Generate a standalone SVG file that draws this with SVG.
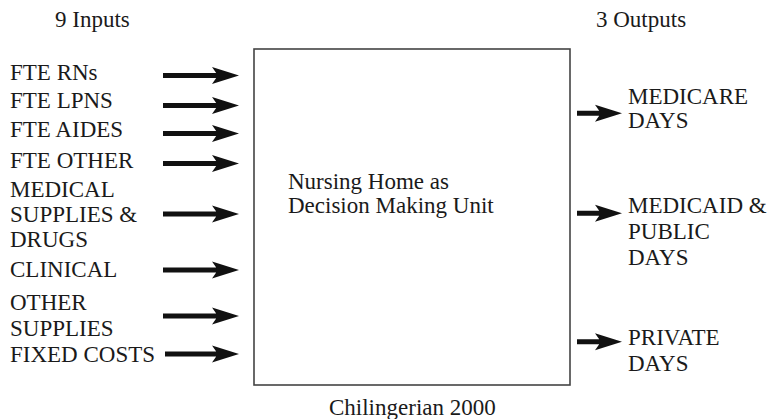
<svg xmlns="http://www.w3.org/2000/svg" width="771" height="419" viewBox="0 0 771 419">
<rect width="771" height="419" fill="#fff"/>
<text x="55" y="27" font-family="Liberation Serif" style="font-family:'Liberation Serif',serif" font-size="23" fill="#1a1a1a">9 Inputs</text>
<text x="596" y="27" font-family="Liberation Serif" style="font-family:'Liberation Serif',serif" font-size="23" fill="#1a1a1a">3 Outputs</text>
<g id="dmu">
<rect x="254" y="49" width="316" height="336" fill="#fff" stroke="#444" stroke-width="1.6"/>
<text x="288" y="189" font-family="Liberation Serif" style="font-family:'Liberation Serif',serif" font-size="23" fill="#1a1a1a">Nursing Home as</text>
<text x="288" y="213" font-family="Liberation Serif" style="font-family:'Liberation Serif',serif" font-size="23" fill="#1a1a1a">Decision Making Unit</text>
</g>
<g id="in-rns"><text x="10" y="80" font-family="Liberation Serif" style="font-family:'Liberation Serif',serif" font-size="23" fill="#1a1a1a">FTE RNs</text></g>
<g id="in-lpns"><text x="10" y="108" font-family="Liberation Serif" style="font-family:'Liberation Serif',serif" font-size="23" fill="#1a1a1a">FTE LPNS</text></g>
<g id="in-aides"><text x="10" y="136.5" font-family="Liberation Serif" style="font-family:'Liberation Serif',serif" font-size="23" fill="#1a1a1a">FTE AIDES</text></g>
<g id="in-other"><text x="10" y="168" font-family="Liberation Serif" style="font-family:'Liberation Serif',serif" font-size="23" fill="#1a1a1a">FTE OTHER</text></g>
<g id="in-medical"><text x="10" y="196.5" font-family="Liberation Serif" style="font-family:'Liberation Serif',serif" font-size="23" fill="#1a1a1a">MEDICAL</text><text x="10" y="221.5" font-family="Liberation Serif" style="font-family:'Liberation Serif',serif" font-size="23" fill="#1a1a1a">SUPPLIES &amp;</text><text x="10" y="246.5" font-family="Liberation Serif" style="font-family:'Liberation Serif',serif" font-size="23" fill="#1a1a1a">DRUGS</text></g>
<g id="in-clinical"><text x="10" y="277" font-family="Liberation Serif" style="font-family:'Liberation Serif',serif" font-size="23" fill="#1a1a1a">CLINICAL</text></g>
<g id="in-othersup"><text x="10" y="310" font-family="Liberation Serif" style="font-family:'Liberation Serif',serif" font-size="23" fill="#1a1a1a">OTHER</text><text x="10" y="336" font-family="Liberation Serif" style="font-family:'Liberation Serif',serif" font-size="23" fill="#1a1a1a">SUPPLIES</text></g>
<g id="in-fixed"><text x="10" y="361.5" font-family="Liberation Serif" style="font-family:'Liberation Serif',serif" font-size="23" fill="#1a1a1a">FIXED COSTS</text></g>
<g id="out-medicare"><text x="628" y="103.5" font-family="Liberation Serif" style="font-family:'Liberation Serif',serif" font-size="23" fill="#1a1a1a">MEDICARE</text><text x="628" y="128" font-family="Liberation Serif" style="font-family:'Liberation Serif',serif" font-size="23" fill="#1a1a1a">DAYS</text></g>
<g id="out-medicaid"><text x="628" y="213" font-family="Liberation Serif" style="font-family:'Liberation Serif',serif" font-size="23" fill="#1a1a1a">MEDICAID &amp;</text><text x="628" y="238.5" font-family="Liberation Serif" style="font-family:'Liberation Serif',serif" font-size="23" fill="#1a1a1a">PUBLIC</text><text x="628" y="264.5" font-family="Liberation Serif" style="font-family:'Liberation Serif',serif" font-size="23" fill="#1a1a1a">DAYS</text></g>
<g id="out-private"><text x="628" y="345" font-family="Liberation Serif" style="font-family:'Liberation Serif',serif" font-size="23" fill="#1a1a1a">PRIVATE</text><text x="628" y="371" font-family="Liberation Serif" style="font-family:'Liberation Serif',serif" font-size="23" fill="#1a1a1a">DAYS</text></g>
<text x="329" y="415" font-family="Liberation Serif" style="font-family:'Liberation Serif',serif" font-size="23" fill="#1a1a1a">Chilingerian 2000</text>
<g id="connectors" fill="#111">
<path d="M163,73 H216.2 L212,67 L239,75.5 L212,84 L216.2,78 H163 Z"/>
<path d="M163,103 H216.2 L212,97 L239,105.5 L212,114 L216.2,108 H163 Z"/>
<path d="M163,131 H216.2 L212,125 L239,133.5 L212,142 L216.2,136 H163 Z"/>
<path d="M163,161 H216.2 L212,155 L239,163.5 L212,172 L216.2,166 H163 Z"/>
<path d="M163,211.5 H216.2 L212,205.5 L239,214 L212,222.5 L216.2,216.5 H163 Z"/>
<path d="M163,267.5 H216.2 L212,261.5 L239,270 L212,278.5 L216.2,272.5 H163 Z"/>
<path d="M163,313.5 H216.2 L212,307.5 L239,316 L212,324.5 L216.2,318.5 H163 Z"/>
<path d="M165,351.5 H216.2 L212,345.5 L239,354 L212,362.5 L216.2,356.5 H165 Z"/>
<path d="M577,110.8 H599.2 L595,104.8 L622,113.3 L595,121.8 L599.2,115.8 H577 Z"/>
<path d="M577,210.8 H599.2 L595,204.8 L622,213.3 L595,221.8 L599.2,215.8 H577 Z"/>
<path d="M577,339.2 H599.2 L595,333.2 L622,341.7 L595,350.2 L599.2,344.2 H577 Z"/>
</g>
</svg>
